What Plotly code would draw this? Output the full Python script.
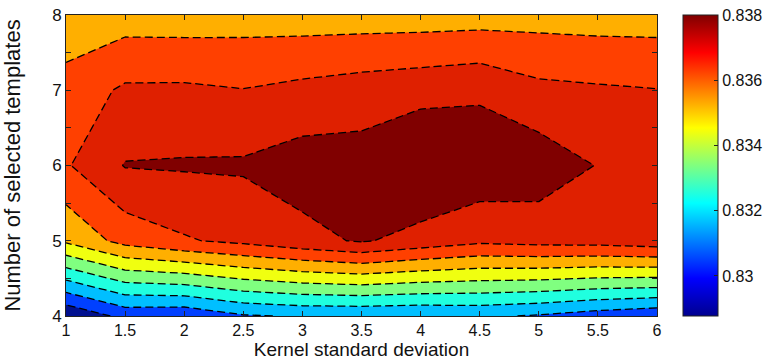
import plotly.graph_objects as go

# ---- data ----
kernel_sd = [1, 1.5, 2, 2.5, 3, 3.5, 4, 4.5, 5, 5.5, 6]
x_tick_text = ["1", "1.5", "2", "2.5", "3", "3.5", "4", "4.5", "5", "5.5", "6"]
n_templates = [4, 5, 6, 7, 8]
y_tick_vals = [4, 4.5, 5, 5.5, 6, 6.5, 7, 7.5, 8]
y_tick_text = ["4", "", "5", "", "6", "", "7", "", "8"]

acc_t4 = [0.8281, 0.8293, 0.8292, 0.8299, 0.8301, 0.8301, 0.83005, 0.83015, 0.8299, 0.8295, 0.8292]
acc_t5 = [0.83417, 0.83536, 0.8359, 0.83625, 0.83671, 0.8371, 0.83664, 0.83622, 0.83636, 0.8364, 0.8366]
acc_t6 = [0.83590, 0.83705, 0.83710, 0.83713, 0.83747, 0.83745, 0.83808, 0.83772, 0.83759, 0.83696, 0.8366]
acc_t7 = [0.8354, 0.83616, 0.83617, 0.83603, 0.83626, 0.83647, 0.83664, 0.83682, 0.83625, 0.83613, 0.83603]
acc_t8 = [0.83432, 0.83452, 0.8345, 0.83456, 0.83451, 0.83451, 0.83451, 0.83455, 0.83461, 0.83456, 0.83456]

level_start = 0.829
level_end = 0.8375
level_step = 0.001

cbar_min = 0.82877
cbar_max = 0.83801
cbar_ticks = [0.83, 0.832, 0.834, 0.836, 0.838]
cbar_text = ["0.83", "0.832", "0.834", "0.836", "0.838"]

band_colors = ["#00108F", "#0040FF", "#00BFFF", "#20FFDF", "#80FF80",
               "#F0FF10", "#FFAF00", "#FF4000", "#DF2000", "#800000"]

z = [acc_t4, acc_t5, acc_t6, acc_t7, acc_t8]

# stepwise scale: band k sampled at k/(n-1)
n = len(band_colors)
band_scale = []
for k, c in enumerate(band_colors):
    lo = max(0.0, (k - 0.5) / (n - 1))
    hi = min(1.0, (k + 0.5) / (n - 1))
    band_scale.append([lo, c])
    band_scale.append([hi, c])

jet = [[0.0, "rgb(0,0,143)"], [0.125, "rgb(0,0,255)"], [0.375, "rgb(0,255,255)"],
       [0.625, "rgb(255,255,0)"], [0.875, "rgb(255,0,0)"], [1.0, "rgb(128,0,0)"]]

FONT = "Liberation Sans, Arial, Helvetica, sans-serif"

fig = go.Figure()
fig.add_trace(go.Contour(
    x=kernel_sd, y=n_templates, z=z,
    autocontour=False,
    contours=dict(start=level_start, end=level_end, size=level_step,
                  coloring="fill", showlines=True),
    line=dict(color="black", width=1.3, dash="8px,4px", smoothing=0),
    colorscale=band_scale, showscale=False, hoverinfo="skip",
))
fig.add_trace(go.Scatter(
    x=[kernel_sd[0]], y=[n_templates[0]], mode="markers", hoverinfo="skip",
    showlegend=False,
    marker=dict(size=1, opacity=0, color=[cbar_min], cmin=cbar_min, cmax=cbar_max,
                colorscale=jet, showscale=True,
                colorbar=dict(x=1.044, xanchor="left", xpad=0, ypad=0,
                              y=0.5, yanchor="middle", len=1, lenmode="fraction",
                              thickness=35, thicknessmode="pixels",
                              outlinewidth=1, outlinecolor="#222222",
                              ticks="inside", ticklen=4, tickcolor="#222222",
                              tickvals=cbar_ticks, ticktext=cbar_text,
                              tickfont=dict(family=FONT, size=16, color="#111111"))),
))

fig.update_layout(
    width=764, height=364,
    margin=dict(l=66, r=107, t=15, b=48, autoexpand=False),
    paper_bgcolor="white", plot_bgcolor="white",
    showlegend=False,
    xaxis=dict(range=[1, 6], tickvals=kernel_sd, ticktext=x_tick_text,
               ticks="inside", ticklen=5, tickcolor="#222222", automargin=False,
               showline=True, linecolor="#222222", linewidth=1, mirror="ticks",
               showgrid=False, zeroline=False,
               tickfont=dict(family=FONT, size=16, color="#111111"),
               title=dict(text="Kernel standard deviation",
                          font=dict(family=FONT, size=19, color="#111111"),
                          standoff=0)),
    yaxis=dict(range=[4, 8], tickvals=y_tick_vals, ticktext=y_tick_text,
               ticks="inside", ticklen=5, tickcolor="#222222", automargin=False,
               showline=True, linecolor="#222222", linewidth=1, mirror="ticks",
               showgrid=False, zeroline=False,
               tickfont=dict(family=FONT, size=17, color="#111111"),
               title=dict(text="Number of selected templates",
                          font=dict(family=FONT, size=22, color="#111111"),
                          standoff=26)),
)

fig.write_html("out.html",
               config={"displayModeBar": False},
               post_script="document.body.style.margin='0';document.body.style.overflow='hidden';")
